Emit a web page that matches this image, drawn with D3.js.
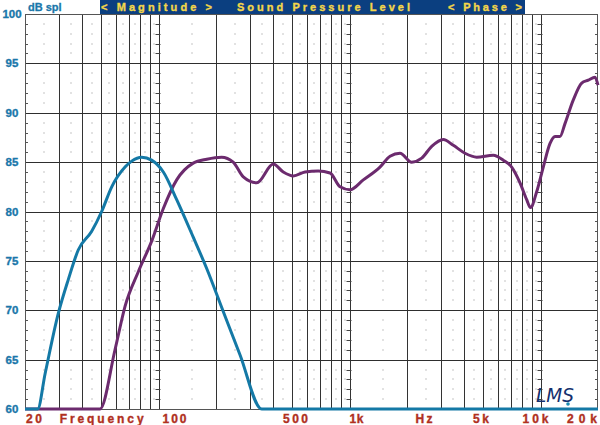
<!DOCTYPE html>
<html><head><meta charset="utf-8">
<script src="https://cdn.jsdelivr.net/npm/d3@7"></script>
<style>body{margin:0;background:#fff}svg{display:block}</style>
</head><body>
<svg id="c" width="600" height="425"></svg>
<script>
// ---- data ----
const blueFreq = [20, 23.3, 25.5, 29.9, 33.7, 38.0, 44.7, 50.4, 56.9, 66.8, 72.4, 81.7, 92, 106, 124.5, 152, 179, 218, 267, 347, 1000, 20000];
const blueDb   = [60, 60, 63.6, 69.7, 73.1, 76.1, 78.0, 80.0, 82.5, 84.5, 85.1, 85.5, 85.2, 84.0, 81.2, 77.4, 74.2, 69.9, 65.5, 60, 60, 60];
const purpleFreq = [20, 49.4, 59.2, 66.8, 78.4, 92.1, 106, 124.5, 152, 179, 214, 246, 278, 327, 399, 450, 508, 585, 686, 791, 892, 1006, 1181, 1444, 1630, 1838, 2116, 2388, 2694, 3098, 3496, 4024, 4634, 5660, 6386, 7065, 7812, 8466, 8865, 9550, 10340, 11216, 11913, 12650, 13434, 14852, 16432, 17792, 19290, 20000];
const purpleDb   = [60, 60, 66.0, 70.4, 73.9, 77.0, 80.3, 83.2, 84.9, 85.3, 85.5, 85.0, 83.5, 82.9, 84.8, 84.0, 83.6, 84.0, 84.1, 83.9, 82.5, 82.2, 83.2, 84.5, 85.6, 85.9, 85.0, 85.4, 86.6, 87.3, 86.7, 85.9, 85.5, 85.7, 85.2, 84.5, 82.9, 81.2, 80.4, 82.0, 84.5, 86.9, 87.6, 87.6, 88.9, 91.3, 93.0, 93.3, 93.6, 92.8];
const yTicks = [60, 65, 70, 75, 80, 85, 90, 95, 100];
const xTickLabels = [["20", 20], ["100", 100], ["500", 500], ["1k", 1000], ["5k", 5000], ["10k", 10000], ["20k", 20000]];
const titleParts = ["< Magnitude >", "Sound Pressure Level", "< Phase >"];

// ---- layout ----
const svg = d3.select("#c");
const x = d3.scaleLog().domain([20, 20000]).range([25, 598]);
const y = d3.scaleLinear().domain([60, 100]).range([409, 14]);

const majorF = [], minorF = [];
[10, 100, 1000].forEach(d => {
  for (let k = 1; k <= 9; k++) {
    const f = k * d;
    if (f > 20 && f < 20000) majorF.push(f);
    const h = (k + 0.5) * d;
    if (h > 20 && h < 20000) minorF.push(h);
  }
});
majorF.push(10000);
const dbs = d3.range(61, 100).filter(v => v % 5 !== 0);

const g = svg.append("g");
// minor dots
minorF.forEach(f => dbs.forEach(v => {
  g.append("rect").attr("x", Math.round(x(f)) - 0.5).attr("y", Math.round(y(v)) - 0.5)
    .attr("width", 1).attr("height", 1).attr("fill", "#8a8a8a");
}));
// vertical major lines
g.selectAll("line.v").data(majorF).enter().append("line")
  .attr("x1", d => Math.round(x(d)) + 0.5).attr("x2", d => Math.round(x(d)) + 0.5)
  .attr("y1", y(100)).attr("y2", y(60)).attr("stroke", "#333").attr("stroke-width", 1);
// horizontal major lines
g.selectAll("line.h").data(yTicks.filter(v => v > 60 && v < 100)).enter().append("line")
  .attr("x1", x(20)).attr("x2", x(20000))
  .attr("y1", d => Math.round(y(d)) + 0.5).attr("y2", d => Math.round(y(d)) + 0.5)
  .attr("stroke", "#2e2e2e").attr("stroke-width", 1);
// ticks at decades and edges
[100, 1000, 10000].forEach(f => dbs.forEach(v => {
  g.append("line").attr("x1", x(f) - 3).attr("x2", x(f) + 2)
    .attr("y1", Math.round(y(v)) + 0.5).attr("y2", Math.round(y(v)) + 0.5)
    .attr("stroke", "#444").attr("stroke-width", 1);
}));
dbs.forEach(v => {
  g.append("line").attr("x1", x(20)).attr("x2", x(20) + 3)
    .attr("y1", Math.round(y(v)) + 0.5).attr("y2", Math.round(y(v)) + 0.5).attr("stroke", "#555");
  g.append("line").attr("x1", x(20000) - 3).attr("x2", x(20000))
    .attr("y1", Math.round(y(v)) + 0.5).attr("y2", Math.round(y(v)) + 0.5).attr("stroke", "#555");
});
// frame
g.append("rect").attr("x", x(20) + 0.5).attr("y", y(100) + 0.5)
  .attr("width", x(20000) - x(20) - 1).attr("height", y(60) - y(100))
  .attr("fill", "none").attr("stroke", "#555").attr("stroke-width", 1);

// title bar
svg.append("rect").attr("x", 100).attr("y", 0).attr("width", 425).attr("height", 14).attr("fill", "#0b3f80");
const tPos = [[101, 111], [237, 173], [448, 74]];
titleParts.forEach((t, i) => {
  svg.append("text").attr("x", tPos[i][0]).attr("y", 11).text(t)
    .attr("textLength", tPos[i][1]).attr("lengthAdjust", "spacing")
    .attr("font-family", "Liberation Sans, Arial, sans-serif").attr("font-weight", "bold")
    .attr("font-size", 11).attr("fill", "#f2d64a")
    .attr("stroke", "#f2d64a").attr("stroke-width", 0.35);
});

// y labels
svg.selectAll("text.yl").data(yTicks).enter().append("text")
  .attr("x", 12).attr("y", d => y(d) + 4).attr("text-anchor", "middle")
  .attr("font-family", "Liberation Sans, Arial, sans-serif").attr("font-weight", "bold")
  .attr("font-size", 11.5).attr("fill", "#1a77aa")
  .attr("stroke", "#1a77aa").attr("stroke-width", 0.35).text(d => d);
svg.append("text").attr("x", 28).attr("y", 10.5).text("dB spl")
  .attr("font-family", "Liberation Sans, Arial, sans-serif").attr("font-weight", "bold")
  .attr("font-size", 11).attr("fill", "#1a77aa").attr("stroke", "#1a77aa").attr("stroke-width", 0.3);

// x labels
const xOff = {"20": [1, 16], "100": [4, 24], "500": [-9, 25], "1k": [0, 14], "5k": [-10, 16], "10k": [-18, 26], "20k": [-31, 30]};
const xl = svg.append("g").attr("font-family", "Liberation Sans, Arial, sans-serif")
  .attr("font-weight", "bold").attr("font-size", 12).attr("fill", "#b0301e")
  .attr("stroke", "#b0301e").attr("stroke-width", 0.35);
xTickLabels.forEach(([t, f]) => {
  xl.append("text").attr("x", x(f) + xOff[t][0]).attr("y", 423).text(t)
    .attr("textLength", xOff[t][1]).attr("lengthAdjust", "spacing");
});
xl.append("text").attr("x", x(30) + 1).attr("y", 423).text("Frequency")
  .attr("textLength", 84).attr("lengthAdjust", "spacing");
xl.append("text").attr("x", x(2500) - 10).attr("y", 423).text("Hz")
  .attr("textLength", 17).attr("lengthAdjust", "spacing");

// curves
const line = d3.line().x(d => x(d[0])).y(d => y(d[1])).curve(d3.curveMonotoneX);
svg.append("path").datum(purpleFreq.map((f, i) => [f, purpleDb[i]]))
  .attr("d", line).attr("fill", "none").attr("stroke", "#6c2b6e").attr("stroke-width", 3)
  .attr("stroke-linejoin", "round");
svg.append("path").datum(blueFreq.map((f, i) => [f, blueDb[i]]))
  .attr("d", line).attr("fill", "none").attr("stroke", "#1479a6").attr("stroke-width", 3)
  .attr("stroke-linejoin", "round");

// logo
svg.append("text").attr("x", 536).attr("y", 402).text("LMS")
  .attr("font-family", "DejaVu Sans, sans-serif").attr("font-style", "italic")
  .attr("font-size", 19).attr("fill", "#14306e").attr("textLength", 38).attr("lengthAdjust", "spacingAndGlyphs");
svg.append("circle").attr("cx", 568).attr("cy", 404).attr("r", 1.8).attr("fill", "#1a8ab0");
</script>
</body></html>
